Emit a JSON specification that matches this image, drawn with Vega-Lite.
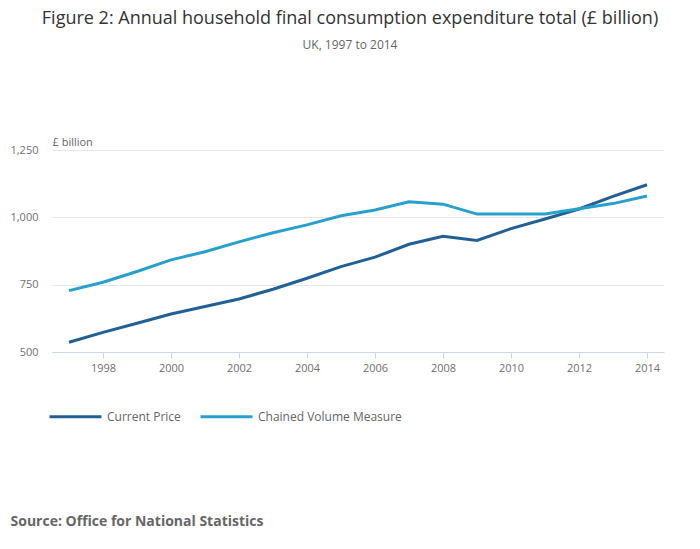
{
  "$schema": "https://vega.github.io/schema/vega-lite/v6.json",
  "autosize": "none",
  "width": 612,
  "height": 202,
  "padding": {"left": 52, "top": 150, "right": 36, "bottom": 197},
  "background": "white",
  "title": {
    "text": "Figure 2: Annual household final consumption expenditure total (£ billion)",
    "subtitle": "UK, 1997 to 2014",
    "anchor": "middle",
    "frame": "group",
    "dx": -8,
    "offset": 85,
    "font": "Open Sans",
    "fontSize": 18,
    "fontWeight": "normal",
    "color": "#333333",
    "subtitleFont": "Open Sans",
    "subtitleFontSize": 12,
    "subtitleColor": "#666666",
    "subtitlePadding": 12
  },
  "data": {
    "values": [
      {"year": 1997, "series": "Current Price", "value": 536},
      {"year": 1998, "series": "Current Price", "value": 573},
      {"year": 1999, "series": "Current Price", "value": 607},
      {"year": 2000, "series": "Current Price", "value": 641},
      {"year": 2001, "series": "Current Price", "value": 669},
      {"year": 2002, "series": "Current Price", "value": 697},
      {"year": 2003, "series": "Current Price", "value": 733},
      {"year": 2004, "series": "Current Price", "value": 774},
      {"year": 2005, "series": "Current Price", "value": 817},
      {"year": 2006, "series": "Current Price", "value": 852},
      {"year": 2007, "series": "Current Price", "value": 900},
      {"year": 2008, "series": "Current Price", "value": 930},
      {"year": 2009, "series": "Current Price", "value": 914},
      {"year": 2010, "series": "Current Price", "value": 958},
      {"year": 2011, "series": "Current Price", "value": 994},
      {"year": 2012, "series": "Current Price", "value": 1031},
      {"year": 2013, "series": "Current Price", "value": 1078},
      {"year": 2014, "series": "Current Price", "value": 1121},
      {"year": 1997, "series": "Chained Volume Measure", "value": 728},
      {"year": 1998, "series": "Chained Volume Measure", "value": 759},
      {"year": 1999, "series": "Chained Volume Measure", "value": 799},
      {"year": 2000, "series": "Chained Volume Measure", "value": 842},
      {"year": 2001, "series": "Chained Volume Measure", "value": 872},
      {"year": 2002, "series": "Chained Volume Measure", "value": 909},
      {"year": 2003, "series": "Chained Volume Measure", "value": 943},
      {"year": 2004, "series": "Chained Volume Measure", "value": 972},
      {"year": 2005, "series": "Chained Volume Measure", "value": 1006},
      {"year": 2006, "series": "Chained Volume Measure", "value": 1027},
      {"year": 2007, "series": "Chained Volume Measure", "value": 1058},
      {"year": 2008, "series": "Chained Volume Measure", "value": 1049},
      {"year": 2009, "series": "Chained Volume Measure", "value": 1012},
      {"year": 2010, "series": "Chained Volume Measure", "value": 1012},
      {"year": 2011, "series": "Chained Volume Measure", "value": 1012},
      {"year": 2012, "series": "Chained Volume Measure", "value": 1032},
      {"year": 2013, "series": "Chained Volume Measure", "value": 1051},
      {"year": 2014, "series": "Chained Volume Measure", "value": 1079}
    ]
  },
  "mark": {"type": "line", "strokeWidth": 3},
  "encoding": {
    "x": {
      "field": "year",
      "type": "quantitative",
      "scale": {"domain": [1996.5, 2014.5], "nice": false, "zero": false},
      "axis": {
        "values": [1998, 2000, 2002, 2004, 2006, 2008, 2010, 2012, 2014],
        "format": "d",
        "grid": false,
        "domainColor": "#ccd6eb",
        "tickColor": "#ccd6eb",
        "tickSize": 6,
        "labelPadding": 4,
        "title": "Source: Office for National Statistics",
        "titleX": -42,
        "titleY": 169,
        "titleAlign": "left",
        "titleAnchor": null,
        "titleBaseline": "middle",
        "titleFont": "Open Sans",
        "titleFontSize": 14,
        "titleFontWeight": "bold",
        "titleColor": "#666666"
      }
    },
    "y": {
      "field": "value",
      "type": "quantitative",
      "scale": {"domain": [500, 1250], "nice": false, "zero": false},
      "axis": {
        "values": [500, 750, 1000, 1250],
        "format": ",d",
        "domain": false,
        "ticks": false,
        "gridColor": "#e6e6e6",
        "labelPadding": 14,
        "title": "£ billion",
        "titleAngle": 0,
        "titleX": 0,
        "titleY": -8,
        "titleAlign": "left",
        "titleAnchor": null,
        "titleBaseline": "middle",
        "titleFont": "Open Sans",
        "titleFontSize": 11,
        "titleFontWeight": "normal",
        "titleColor": "#666666"
      }
    },
    "color": {
      "field": "series",
      "type": "nominal",
      "sort": ["Current Price", "Chained Volume Measure"],
      "scale": {"domain": ["Current Price", "Chained Volume Measure"], "range": ["#206095", "#27a0cc"]},
      "legend": {
        "title": null,
        "orient": "none",
        "legendX": -4,
        "legendY": 239,
        "direction": "horizontal",
        "symbolType": "stroke",
        "symbolStrokeWidth": 3,
        "symbolSize": 2704,
        "labelFont": "Open Sans",
        "labelFontSize": 12,
        "labelColor": "#666666",
        "labelOffset": 4,
        "columnPadding": 13
      }
    }
  },
  "config": {
    "view": {"stroke": null},
    "axis": {
      "labelFont": "Open Sans",
      "labelFontSize": 11,
      "labelColor": "#707070"
    }
  }
}
